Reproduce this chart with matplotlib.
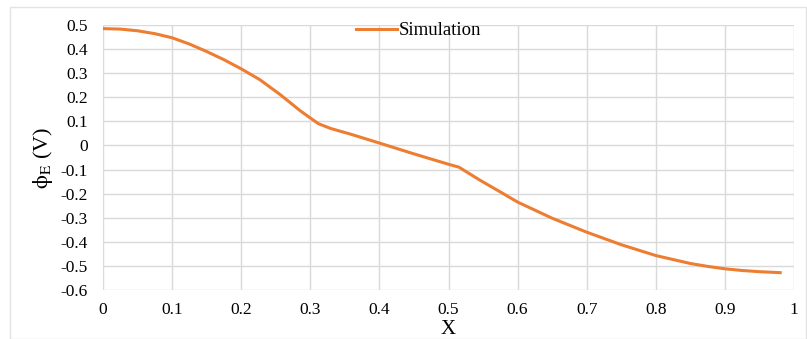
import numpy as np
import matplotlib
matplotlib.use("Agg")
import matplotlib.pyplot as plt
from matplotlib.patches import Rectangle

plt.rcParams['font.family'] = ['Liberation Serif', 'DejaVu Serif']
plt.rcParams['mathtext.fontset'] = 'stix'

# simulated potential along x
x_sim = [0, 0.025, 0.05, 0.075, 0.1, 0.125, 0.15, 0.175, 0.2, 0.227, 0.256, 0.285, 0.3,
         0.312, 0.33, 0.357, 0.4, 0.45, 0.5, 0.515, 0.546, 0.575, 0.6, 0.65, 0.7, 0.75,
         0.8, 0.85, 0.875, 0.9, 0.925, 0.95, 0.98]
phi_sim = [0.485, 0.483, 0.476, 0.464, 0.447, 0.421, 0.39, 0.356, 0.318, 0.273, 0.212,
           0.145, 0.114, 0.09, 0.07, 0.048, 0.01, -0.035, -0.078, -0.09, -0.145, -0.193,
           -0.235, -0.302, -0.36, -0.412, -0.457, -0.49, -0.502, -0.512, -0.519, -0.524,
           -0.528]

x_ticks = [0, 0.1, 0.2, 0.3, 0.4, 0.5, 0.6, 0.7, 0.8, 0.9, 1]
x_labels = ['0', '0.1', '0.2', '0.3', '0.4', '0.5', '0.6', '0.7', '0.8', '0.9', '1']
y_ticks = [0.5, 0.4, 0.3, 0.2, 0.1, 0, -0.1, -0.2, -0.3, -0.4, -0.5, -0.6]
y_labels = ['0.5', '0.4', '0.3', '0.2', '0.1', '0', '-0.1', '-0.2', '-0.3', '-0.4', '-0.5', '-0.6']

fig = plt.figure(figsize=(8.07, 3.39), dpi=100)
fig.patches.append(Rectangle((10 / 807, 0), 796 / 807, 1 - 7 / 339, transform=fig.transFigure,
                             fill=False, edgecolor='#e3e3e3', linewidth=1))
ax = fig.add_axes([103 / 807, 1 - 290 / 339, 691 / 807, 265 / 339])

ax.plot(x_sim, phi_sim, color='#ED7D31', linewidth=2.2, label='Simulation')

ax.set_xlim(0, 1)
ax.set_ylim(-0.6, 0.5)
ax.set_xticks(x_ticks)
ax.set_xticklabels(x_labels)
ax.set_yticks(y_ticks)
ax.set_yticklabels(y_labels)
ax.tick_params(length=0, labelsize=12.5)
ax.tick_params(axis='y', pad=11)
ax.tick_params(axis='x', pad=9)
ax.grid(True, color='#d9d9d9', linewidth=1)
ax.set_axisbelow(True)
for s in ax.spines.values():
    s.set_visible(False)

ax.set_xlabel('X', fontsize=15, labelpad=1)
ax.set_ylabel(r'$\mathrm{\phi}_{\mathrm{E}}$ (V)', fontsize=16, labelpad=4)

ax.legend(loc='upper center', bbox_to_anchor=(0.457, 1.075), frameon=False, fontsize=13.5,
          handlelength=2.2, handletextpad=0.1)

fig.savefig('out.png', dpi=100)
